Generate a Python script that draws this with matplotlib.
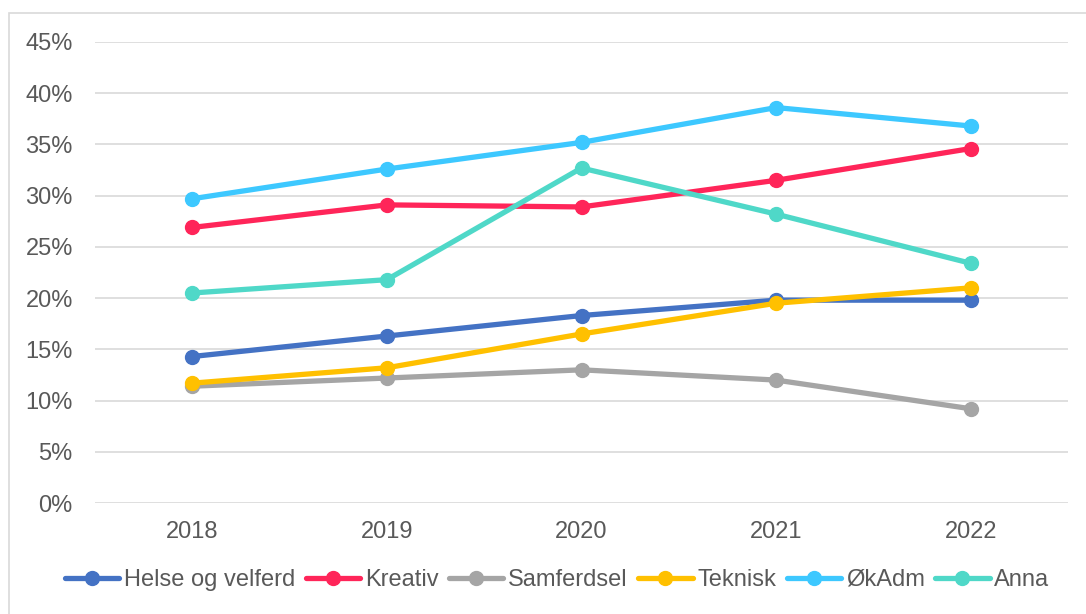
import matplotlib.pyplot as plt
from matplotlib.patches import Rectangle
from matplotlib.ticker import FuncFormatter

plt.rcParams['font.family'] = ['Liberation Sans', 'DejaVu Sans']

years = ["2018", "2019", "2020", "2021", "2022"]
helse = [14.3, 16.3, 18.3, 19.8, 19.8]
kreativ = [26.9, 29.1, 28.9, 31.5, 34.6]
samferdsel = [11.4, 12.2, 13.0, 12.0, 9.2]
teknisk = [11.7, 13.2, 16.5, 19.5, 21.0]
okadm = [29.7, 32.6, 35.2, 38.6, 36.8]
anna = [20.5, 21.8, 32.7, 28.2, 23.4]

series = [
    ("Helse og velferd", helse, "#4472C4"),
    ("Kreativ", kreativ, "#FF2559"),
    ("Samferdsel", samferdsel, "#A5A5A5"),
    ("Teknisk", teknisk, "#FFC000"),
    ("ØkAdm", okadm, "#3DC8FF"),
    ("Anna", anna, "#4FD8C8"),
]

text_col = "#595959"

fig = plt.figure(figsize=(10.86, 6.14), dpi=100)
ax = fig.add_axes([95 / 1086, 1 - 503 / 614, (1068 - 95) / 1086, (503 - 42) / 614])

# light chart border
fig.patches.append(Rectangle((9 / 1086, -0.01), 1.0, 1 - 13 / 614 + 0.01,
                             transform=fig.transFigure, fill=False,
                             edgecolor="#d9d9d9", linewidth=1.2))

x = range(len(years))
for name, vals, col in series:
    ax.plot(x, vals, color=col, linewidth=3.8, marker="o", markersize=10,
            label=name, solid_capstyle="round")

ax.set_xlim(-0.5, len(years) - 0.5)
ax.set_ylim(0, 45)
ax.set_yticks(range(0, 46, 5))
ax.yaxis.set_major_formatter(FuncFormatter(lambda v, p: f"{v:.0f}%"))
ax.set_xticks(list(x))
ax.set_xticklabels(years)
ax.grid(axis="y", color="#d9d9d9", linewidth=1.2)
ax.set_axisbelow(True)
for s in ax.spines.values():
    s.set_visible(False)
ax.tick_params(length=0, labelsize=17, colors=text_col)
ax.tick_params(axis="x", pad=13)
ax.tick_params(axis="y", pad=16)

fig.legend(loc="center", bbox_to_anchor=(0.513, 1 - 580 / 614), ncol=6,
           frameon=False, fontsize=17, labelcolor=text_col,
           handlelength=2.3, handletextpad=0.2, columnspacing=0.45,
           borderaxespad=0)

fig.savefig("out.png", dpi=100)
